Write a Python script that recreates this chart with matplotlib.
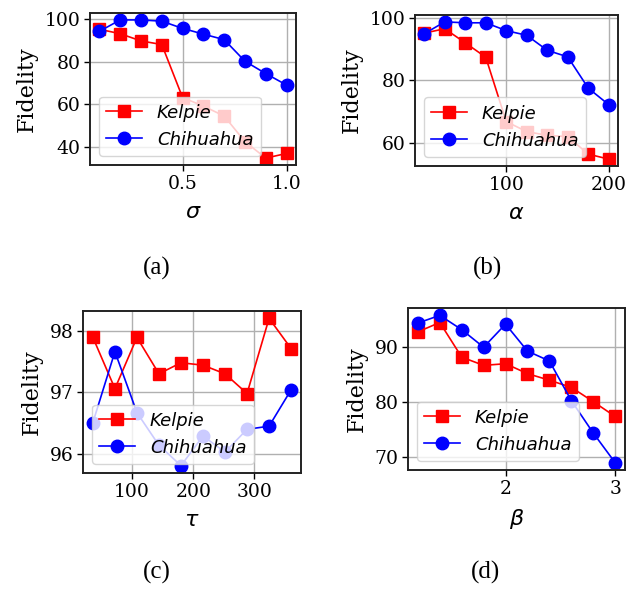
import numpy as np
import matplotlib
matplotlib.use("Agg")
import matplotlib.pyplot as plt

# valores
sigma = [0.1, 0.2, 0.3, 0.4, 0.5, 0.6, 0.7, 0.8, 0.9, 1.0]
kelpie_sigma = [95.3, 93.2, 89.8, 88.1, 63.1, 59.1, 54.4, 42.3, 34.6, 36.8]
chihuahua_sigma = [94.3, 99.7, 99.7, 99.1, 95.7, 93.0, 90.4, 80.2, 74.4, 69.0]

alpha = [20, 40, 60, 80, 100, 120, 140, 160, 180, 200]
kelpie_alpha = [95.1, 96.5, 92.0, 87.4, 66.8, 63.6, 62.4, 62.0, 56.4, 54.8]
chihuahua_alpha = [94.9, 98.7, 98.4, 98.4, 95.9, 94.4, 89.6, 87.5, 77.5, 72.2]

tau = [36, 72, 108, 144, 180, 216, 252, 288, 324, 360]
kelpie_tau = [97.89, 97.06, 97.89, 97.30, 97.48, 97.44, 97.30, 96.98, 98.20, 97.71]
chihuahua_tau = [96.51, 97.66, 96.67, 96.14, 95.81, 96.29, 96.03, 96.40, 96.45, 97.04]

beta = [1.2, 1.4, 1.6, 1.8, 2.0, 2.2, 2.4, 2.6, 2.8, 3.0]
kelpie_beta = [92.8, 94.5, 88.2, 86.7, 87.0, 85.2, 84.0, 82.7, 80.1, 77.4]
chihuahua_beta = [94.4, 95.8, 93.2, 90.0, 94.2, 89.3, 87.5, 80.3, 74.4, 69.0]

W, H = 643, 594
fig = plt.figure(figsize=(W / 100, H / 100), dpi=100)


def px_axes(x0, y0, x1, y1):
    # caja en pixeles (arriba-izquierda) -> coordenadas de figura
    return fig.add_axes([x0 / W, 1 - y1 / H, (x1 - x0) / W, (y1 - y0) / H])


paneles = [
    ((90, 13, 296, 165), sigma, kelpie_sigma, chihuahua_sigma, r"$\sigma$",
     [0.5, 1.0], [40, 60, 80, 100], "(a)", (157, 268)),
    ((415, 15, 618, 166), alpha, kelpie_alpha, chihuahua_alpha, r"$\alpha$",
     [100, 200], [60, 80, 100], "(b)", (487, 268)),
    ((83, 311, 301, 473), tau, kelpie_tau, chihuahua_tau, r"$\tau$",
     [100, 200, 300], [96, 97, 98], "(c)", (157, 572)),
    ((408, 308, 625, 470), beta, kelpie_beta, chihuahua_beta, r"$\beta$",
     [2, 3], [70, 80, 90], "(d)", (486, 572)),
]

for caja, x, k, c, xlab, xt, yt, cap, pos in paneles:
    ax = px_axes(*caja)
    ax.plot(x, k, color="red", marker="s", markersize=9, lw=1.2, label="Kelpie")
    ax.plot(x, c, color="blue", marker="o", markersize=9, lw=1.2, label="Chihuahua")
    ax.set_xticks(xt)
    ax.set_yticks(yt)
    ax.grid(True, color="#b0b0b0", lw=1.0)
    for s in ax.spines.values():
        s.set_linewidth(1.4)
        s.set_color("#222222")
    ax.tick_params(labelsize=13.5, length=4, width=1.0, pad=3)
    for lbl in ax.get_xticklabels() + ax.get_yticklabels():
        lbl.set_family("DejaVu Serif")
    ax.set_ylabel("Fidelity", family="DejaVu Serif", fontsize=16, labelpad=5)
    ax.set_xlabel(xlab, fontsize=16, labelpad=7)
    leg = ax.legend(loc="lower left", prop={"style": "italic", "size": 13},
                    handlelength=2.0, borderaxespad=0.5)
    fig.text(pos[0] / W, 1 - pos[1] / H, cap, family="Liberation Serif",
             fontsize=18, ha="center", va="center")

fig.savefig("out.png", dpi=100)
